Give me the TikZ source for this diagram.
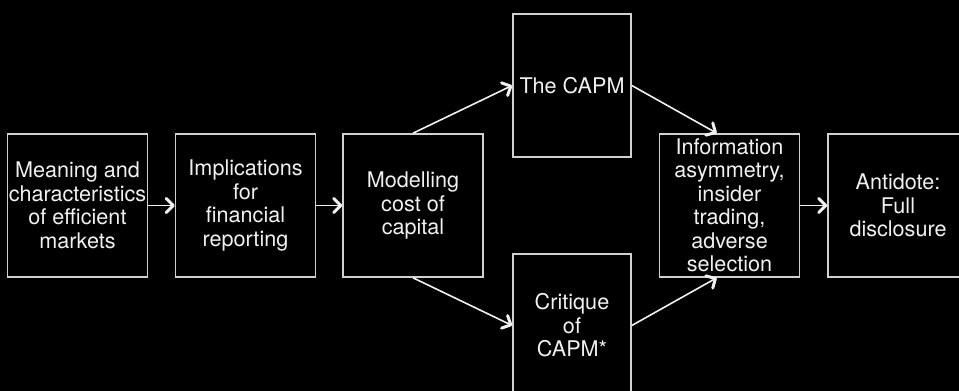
\documentclass[tikz,border=0pt]{standalone}
\usepackage{fontspec}
\setmainfont{TeX Gyre Heros}
\usetikzlibrary{positioning,arrows.meta}

\begin{document}
\begin{tikzpicture}[x=0.5pt,y=-0.5pt,
    >={Straight Barb[length=3.5pt,width=7pt,line width=1.5pt,round]},
    topic/.style={draw=white!82!black,line width=0.8pt,text=white!94!black,align=center,
        minimum width=70pt,minimum height=71.5pt,inner sep=0pt,
        font=\fontsize{10.8}{11.75}\selectfont},
    capm/.style={topic,minimum width=59pt},
    link/.style={->,draw=white!94!black,line width=0.8pt}]
    \fill[black] (0,0) rectangle (959,391);
    \clip (0,0) rectangle (959,391);
    \node[topic] (mean) at (77.5,205.5) {Meaning and\\characteristics\\of efficient\\markets};
    \node[topic] (impl) at (245.5,205.5) {Implications\\for\\financial\\reporting};
    \node[topic] (cost) at (413,205.5) {Modelling\\cost of\\capital};
    \node[capm] (capm) at (572,85.5) {The CAPM};
    \node[capm] (crit) at (572,325.5) {Critique\\of\\CAPM*};
    \node[topic] (info) at (729.5,205.5) {Information\\asymmetry,\\insider\\trading,\\adverse\\selection};
    \node[topic] (anti) at (898,205.5) {Antidote:\\Full\\disclosure};

    \draw[link] (mean) -- (impl);
    \draw[link] (impl) -- (cost);
    \draw[link] (cost.north) -- (capm.west);
    \draw[link] (cost.south) -- (crit.west);
    \draw[link] (capm.east) -- (info.100);
    \draw[link] (crit.east) -- (info.260);
    \draw[link] (info) -- (anti);
\end{tikzpicture}
\end{document}
